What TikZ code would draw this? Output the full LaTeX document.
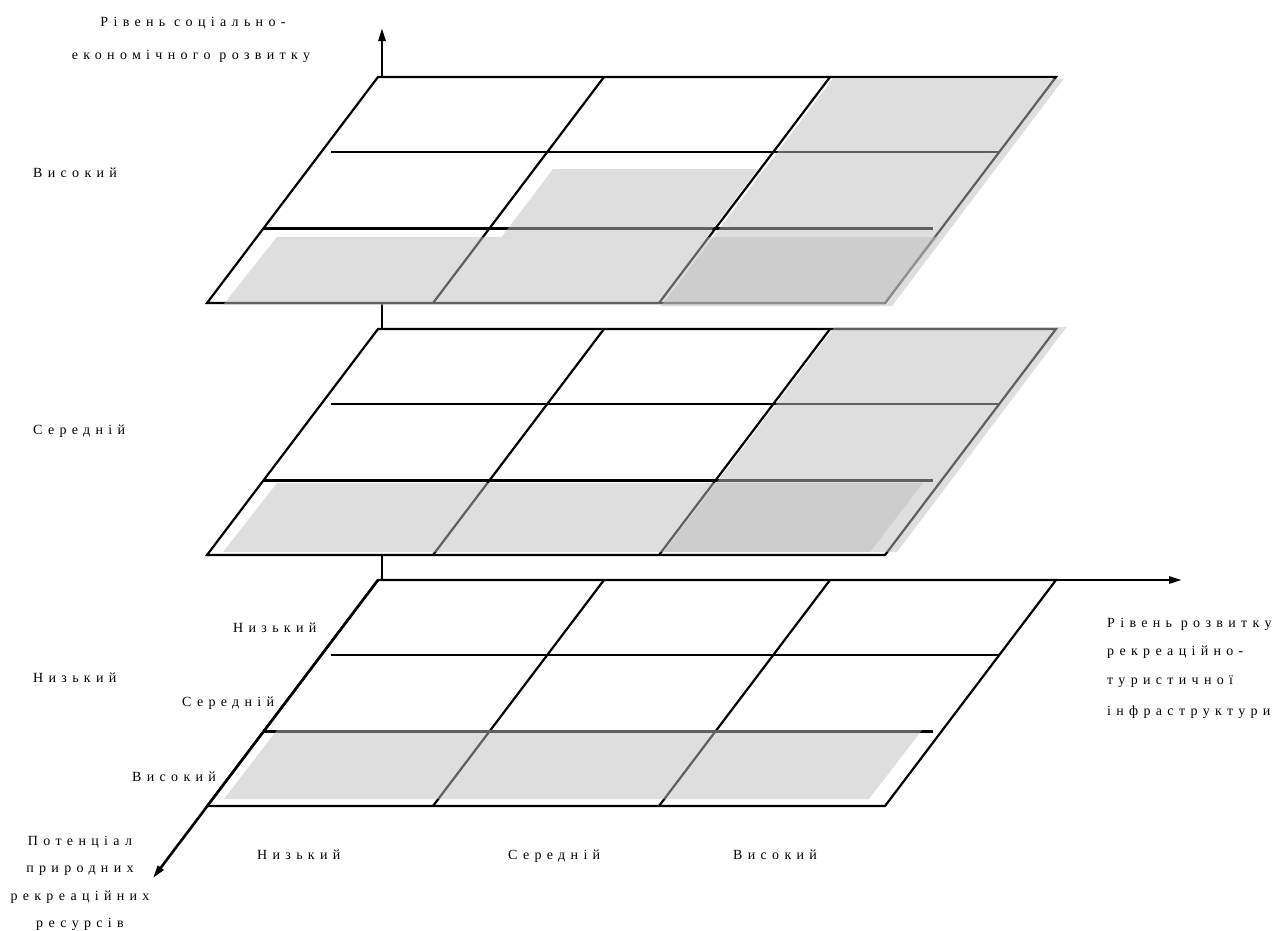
\documentclass[tikz,border=0pt]{standalone}
\usepackage{fontspec}
\setmainfont{Liberation Serif}
\newfontfamily\labfont[LetterSpace=38]{Liberation Serif}
\usetikzlibrary{arrows.meta}
\definecolor{shd}{gray}{0.745}
\newcommand\myplane[1]{%
  \begin{scope}[yshift=-#1pt]
    \filldraw[gridline, fill=white] (378,0) -- (1056,0) -- (885,226) -- (207,226) -- cycle;
    \draw[gridline] (604,0) -- (433,226);
    \draw[gridline] (830,0) -- (659,226);
    \draw[gridline] (331,75) -- (999,75);
    \draw[gridline] (264,151.5) -- (933,151.5);
  \end{scope}}
\begin{document}
\begin{tikzpicture}[x=1pt,y=-1pt,
  gridline/.style={line width=2.2pt, draw=black},
  shadebox/.style={fill=shd, fill opacity=0.506, draw=none},
  axis/.style={line width=2.6pt, draw=black, -{Triangle[length=13pt,width=7pt]}},
  lbl/.style={font=\labfont\fontsize{14}{16}\selectfont, inner sep=0pt, anchor=base west},
  lblc/.style={lbl, anchor=base}]
\useasboundingbox (0,0) rectangle (1284,930);
\fill[white] (0,0) rectangle (1284,930);
% vertical axis (behind the planes)
\coordinate (O) at (382,580);
\coordinate (ztip) at (382,28);
\draw[axis] (O) -- (ztip);
% planes
\myplane{77}
\myplane{329}
\myplane{580}
% shading, top plane
\fill[shadebox] (833,78.5) -- (1064,78.5) -- (892,306) -- (661,306) -- cycle;
\fill[shadebox] (553,169) -- (758,169) -- (706.5,237) -- (501.5,237) -- cycle;
\fill[shadebox] (277,237) -- (938,237) -- (884,305) -- (223,305) -- cycle;
% shading, middle plane
\fill[shadebox] (834.5,327) -- (1066.5,327) -- (897,552) -- (664,552) -- cycle;
\fill[shadebox] (277,483) -- (923,483) -- (870,552) -- (223,552) -- cycle;
% shading, bottom plane
\fill[shadebox] (277,730) -- (922,730) -- (869,799) -- (224,799) -- cycle;
% horizontal and diagonal axes
\coordinate (O2) at (378,580);
\coordinate (xtip) at (1182,580);
\coordinate (ytip) at (153,878);
\draw[axis] (O2) -- (xtip);
\draw[axis] (O2) -- (ytip);
% labels
\node[lblc] (zt1) at (193,26) {Рівень соціально-};
\node[lblc] (zt2) at (191,59.3) {економічного розвитку};
\node[lbl] (zh) at (33,177.7) {Високий};
\node[lbl] (zm) at (33,434.7) {Середній};
\node[lbl] (zl) at (33,682.7) {Низький};
\node[lbl] (yl) at (233,632.7) {Низький};
\node[lbl] (ym) at (182,706.7) {Середній};
\node[lbl] (yh) at (132,781.7) {Високий};
\node[lbl] (xl) at (257,859.3) {Низький};
\node[lbl] (xm) at (508,859.3) {Середній};
\node[lbl] (xh) at (733,859.3) {Високий};
\node[lbl] (xa1) at (1107,627.5) {Рівень розвитку};
\node[lbl] (xa2) at (1107,655.5) {рекреаційно-};
\node[lbl] (xa3) at (1107,684) {туристичної};
\node[lbl] (xa4) at (1107,715.5) {інфраструктури};
\node[lblc] (ya1) at (80,845.7) {Потенціал};
\node[lblc] (ya2) at (80,872) {природних};
\node[lblc] (ya3) at (80,900.7) {рекреаційних};
\node[lblc] (ya4) at (80,927.3) {ресурсів};
\end{tikzpicture}
\end{document}
